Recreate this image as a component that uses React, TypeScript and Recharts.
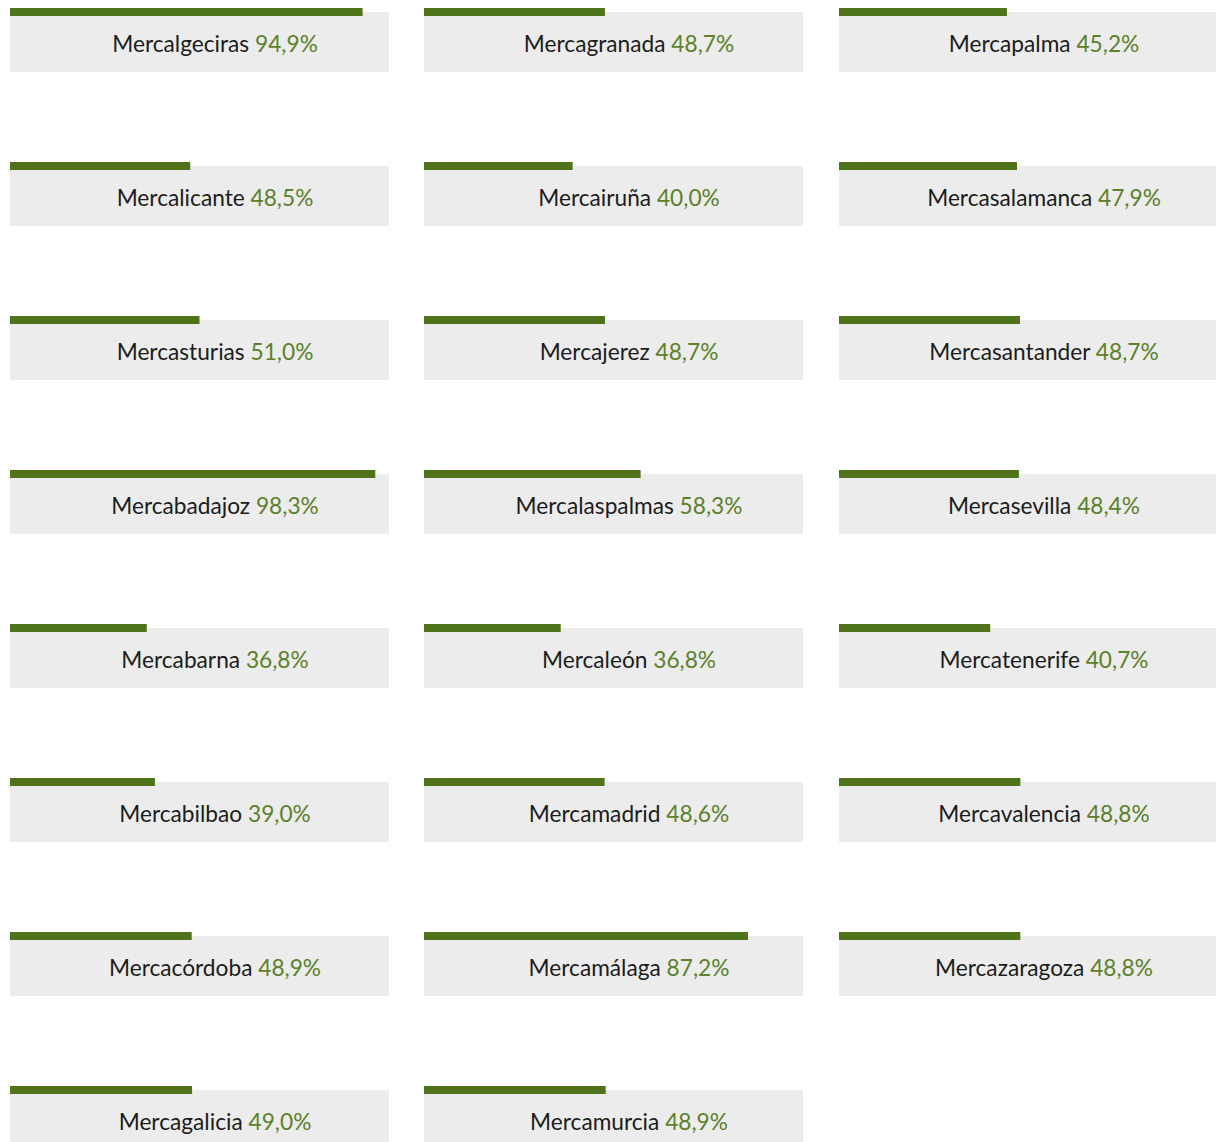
import React from 'react';
import { BarChart, Bar, XAxis, YAxis } from 'recharts';

const markets = [
  'Mercalgeciras', 'Mercalicante', 'Mercasturias', 'Mercabadajoz', 'Mercabarna', 'Mercabilbao', 'Mercacórdoba', 'Mercagalicia',
  'Mercagranada', 'Mercairuña', 'Mercajerez', 'Mercalaspalmas', 'Mercaleón', 'Mercamadrid', 'Mercamálaga', 'Mercamurcia',
  'Mercapalma', 'Mercasalamanca', 'Mercasantander', 'Mercasevilla', 'Mercatenerife', 'Mercavalencia', 'Mercazaragoza',
];
const shares = [
  94.9, 48.5, 51.0, 98.3, 36.8, 39.0, 48.9, 49.0,
  48.7, 40.0, 48.7, 58.3, 36.8, 48.6, 87.2, 48.9,
  45.2, 47.9, 48.7, 48.4, 40.7, 48.8, 48.8,
];
const axisMax = 102;

const GREEN_BAR = '#4f7319';
const GREEN_TEXT = '#5b8129';
const GREY = '#ebeceb';
const FONT = 'Lato, "Noto Sans", sans-serif';

const CELL_W = 379;
const CELL_H = 64;
const BAR_H = 8;
const COL_X = [10, 424, 839];
const ROW_Y0 = 8;
const ROW_PITCH = 154;
const ROWS = 8;
const TEXT_X = 205;
const TEXT_BASELINE = 44;

const fmt = (v: number) => v.toFixed(1).replace('.', ',') + '%';

function Cell({ name, value }: { name: string; value: number }) {
  const data = [{ name, value }];
  const shape = (p: any) => {
    const { x, y, width } = p;
    return (
      <g>
        <rect x={x} y={y - 4} width={Math.max(0, width)} height={BAR_H} fill={GREEN_BAR} />
        <text
          x={TEXT_X}
          y={TEXT_BASELINE}
          textAnchor="middle"
          fontFamily={FONT}
          fontSize={22.7}
        >
          <tspan fill="#1c1c1c">{name} </tspan>
          <tspan fill={GREEN_TEXT}>{fmt(value)}</tspan>
        </text>
      </g>
    );
  };
  return (
    <BarChart
      width={CELL_W}
      height={CELL_H}
      data={data}
      layout="vertical"
      margin={{ top: 4, right: 0, bottom: 0, left: 0 }}
      barCategoryGap={0}
    >
      <XAxis type="number" domain={[0, axisMax]} hide />
      <YAxis type="category" dataKey="name" hide />
      <Bar
        dataKey="value"
        isAnimationActive={false}
        background={{ fill: GREY }}
        shape={shape}
      />
    </BarChart>
  );
}

export default function App() {
  return (
    <div style={{ position: 'relative', width: 1216, height: 1142, overflow: 'hidden', background: '#fff' }}>
      <style>{`body{margin:0;overflow:hidden;}`}</style>
      {markets.map((m, i) => {
        const col = Math.floor(i / ROWS);
        const row = i % ROWS;
        return (
          <div
            key={m}
            style={{ position: 'absolute', left: COL_X[col], top: ROW_Y0 + row * ROW_PITCH, width: CELL_W, height: CELL_H }}
          >
            <Cell name={m} value={shares[i]} />
          </div>
        );
      })}
    </div>
  );
}
